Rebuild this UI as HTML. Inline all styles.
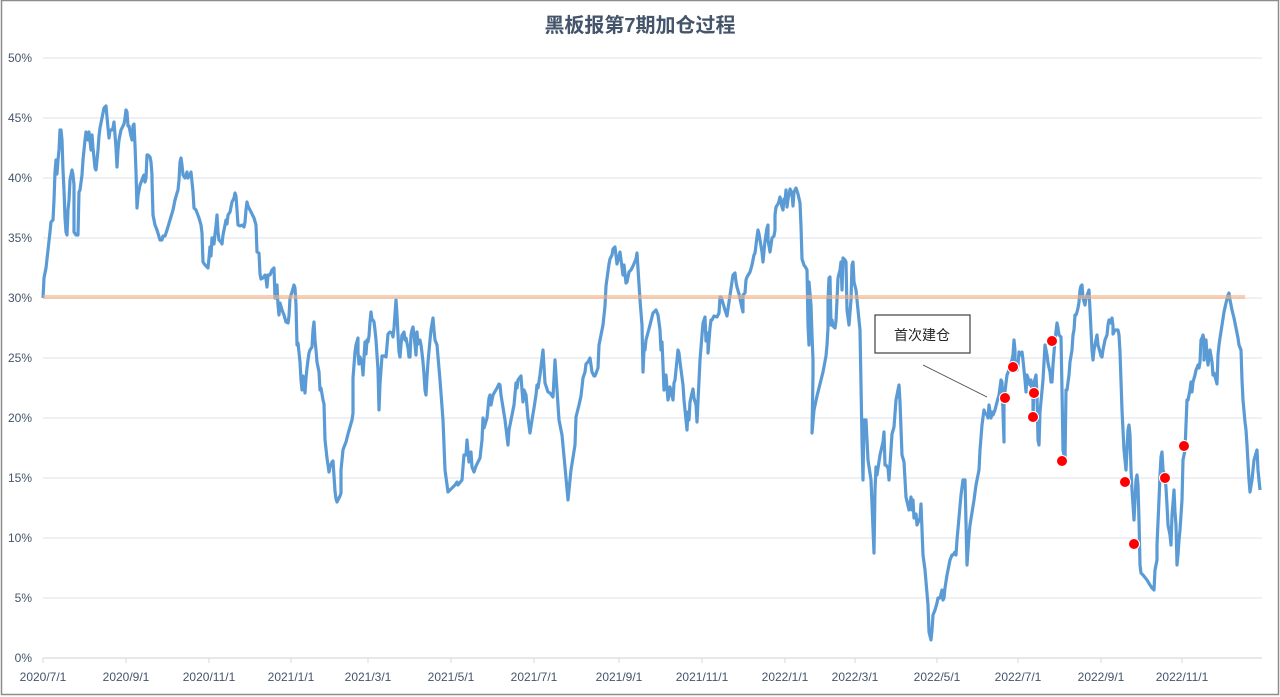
<!DOCTYPE html>
<html><head><meta charset="utf-8"><style>
html,body{margin:0;padding:0;background:#fff;}
svg{display:block;}
text{font-family:"Liberation Sans","Noto Sans CJK SC",sans-serif;}
</style></head><body>
<svg width="1280" height="697" viewBox="0 0 1280 697" xmlns="http://www.w3.org/2000/svg">
<rect x="1.5" y="0.5" width="1277" height="694" fill="#fff" stroke="#8c8c8c" stroke-width="1.5"/>
<text x="640" y="32" text-anchor="middle" font-size="20" font-weight="bold" fill="#44546a">黑板报第7期加仓过程</text>
<g stroke="#e4e7ec" stroke-width="1.2">
<line x1="43" x2="1262" y1="58" y2="58"/><line x1="43" x2="1262" y1="118" y2="118"/>
<line x1="43" x2="1262" y1="178" y2="178"/><line x1="43" x2="1262" y1="238" y2="238"/>
<line x1="43" x2="1262" y1="298" y2="298"/><line x1="43" x2="1262" y1="358" y2="358"/>
<line x1="43" x2="1262" y1="418" y2="418"/><line x1="43" x2="1262" y1="478" y2="478"/>
<line x1="43" x2="1262" y1="538" y2="538"/><line x1="43" x2="1262" y1="598" y2="598"/>
</g>
<line x1="43" x2="1262" y1="658" y2="658" stroke="#d9d9d9" stroke-width="1.2"/>
<g stroke="#d9d9d9" stroke-width="1">
<line x1="43" x2="43" y1="658" y2="663"/><line x1="126" x2="126" y1="658" y2="663"/><line x1="209" x2="209" y1="658" y2="663"/><line x1="291" x2="291" y1="658" y2="663"/><line x1="368" x2="368" y1="658" y2="663"/><line x1="451" x2="451" y1="658" y2="663"/><line x1="534" x2="534" y1="658" y2="663"/><line x1="619" x2="619" y1="658" y2="663"/><line x1="702" x2="702" y1="658" y2="663"/><line x1="785" x2="785" y1="658" y2="663"/><line x1="855" x2="855" y1="658" y2="663"/><line x1="937" x2="937" y1="658" y2="663"/><line x1="1018" x2="1018" y1="658" y2="663"/><line x1="1101" x2="1101" y1="658" y2="663"/><line x1="1182" x2="1182" y1="658" y2="663"/>
</g>
<g font-size="12" fill="#44546a" text-anchor="end">
<text x="32" y="62">50%</text><text x="32" y="122">45%</text><text x="32" y="182">40%</text><text x="32" y="242">35%</text><text x="32" y="302">30%</text><text x="32" y="362">25%</text><text x="32" y="422">20%</text><text x="32" y="482">15%</text><text x="32" y="542">10%</text><text x="32" y="602">5%</text><text x="32" y="662">0%</text>
</g>
<g font-size="12" fill="#44546a" text-anchor="middle">
<text x="43" y="681">2020/7/1</text><text x="126" y="681">2020/9/1</text><text x="209" y="681">2020/11/1</text><text x="291" y="681">2021/1/1</text><text x="368" y="681">2021/3/1</text><text x="451" y="681">2021/5/1</text><text x="534" y="681">2021/7/1</text><text x="619" y="681">2021/9/1</text><text x="702" y="681">2021/11/1</text><text x="785" y="681">2022/1/1</text><text x="855" y="681">2022/3/1</text><text x="937" y="681">2022/5/1</text><text x="1018" y="681">2022/7/1</text><text x="1101" y="681">2022/9/1</text><text x="1182" y="681">2022/11/1</text>
</g>
<polyline fill="none" stroke="#5b9bd5" stroke-width="3.2" stroke-linejoin="round" points="43,298 44,278 46,268 48,250 50,232 51,222 53,220 54,200 55,172 56,160 57,174 58,160 59,150 60,130 61,130 62,140 63,170 64,190 65,218 66,232 67,235 68,210 69,200 70,180 71,175 72,170 73,175 74,185 74,232 76,235 78,235 79,192 80,190 82,175 83,160 85,140 86,132 88,140 89,132 91,150 92,135 93,148 95,168 96,170 98,150 99,136 100,128 102,118 104,108 106,106 108,128 109,138 110,130 112,130 113,128 114,122 115,135 116,148 117,167 118,150 119,140 121,130 122,128 124,124 125,118 126,110 127,112 128,126 129,126 131,136 132,140 133,126 134,124 135,145 136,172 137,208 138,196 140,185 142,180 143,177 144,175 145,182 146,178 147,155 148,155 150,157 151,162 152,175 152,180 153,215 155,225 157,230 160,240 162,240 163,236 165,236 167,230 170,220 173,210 175,200 177,193 178,190 179,180 180,162 181,158 182,165 183,175 185,178 187,172 188,178 189,176 190,176 191,172 192,182 193,192 194,208 196,210 199,218 201,225 202,233 203,262 205,265 208,268 209,258 210,247 211,256 212,238 213,238 214,244 215,234 216,226 217,215 218,232 219,240 221,242 222,244 223,235 225,225 226,220 227,224 228,215 230,212 232,202 234,198 235,193 236,196 237,210 238,225 240,226 242,225 244,227 245,222 246,210 247,202 248,206 250,210 252,214 254,218 256,225 257,252 259,253 260,274 261,279 263,278 265,275 266,279 267,287 268,275 270,275 272,270 274,268 275,298 276,298 277,285 278,305 279,315 280,303 282,310 284,315 286,322 288,323 289,316 290,298 292,292 294,285 295,288 296,305 297,345 298,343 300,362 301,380 302,390 303,376 305,393 306,378 307,368 308,360 309,353 310,350 312,347 313,330 314,322 315,340 316,350 317,362 319,372 320,390 321,388 323,400 324,404 325,440 327,458 329,472 330,467 332,462 333,461 335,491 336,499 337,502 338,500 340,496 341,493 341,470 343,450 344,447 346,442 348,434 350,427 352,420 353,413 353,404 353,378 355,352 356,345 358,338 358,352 359,364 360,357 361,360 362,363 363,375 364,358 365,342 366,354 367,340 368,342 369,336 370,322 371,312 372,320 373,320 374,322 375,330 376,340 377,355 378,370 379,410 380,384 381,370 382,356 384,356 386,357 387,346 388,334 390,332 392,333 393,337 394,328 396,300 397,315 398,335 399,352 400,357 401,345 402,335 403,334 404,332 405,340 406,338 407,343 408,348 409,357 410,357 411,335 412,330 413,327 414,335 416,355 417,332 418,344 420,340 421,345 422,353 423,362 424,374 425,390 426,395 427,377 428,362 430,340 431,330 433,318 434,330 435,340 437,345 440,380 443,420 445,470 448,492 455,485 457,482 458,485 462,480 463,467 464,455 466,455 467,440 469,462 471,452 472,467 474,472 476,466 480,458 482,440 483,418 484,428 487,418 489,398 490,395 491,405 493,395 497,388 499,384 500,385 501,395 505,420 508,445 509,430 512,415 514,405 516,383 517,388 518,380 521,376 522,390 523,402 524,390 526,395 528,418 530,433 532,420 534,408 536,395 537,385 538,388 540,375 543,350 545,383 548,392 550,393 553,397 555,360 559,420 562,435 565,467 568,500 571,470 575,445 576,417 579,405 581,396 583,378 585,372 586,364 588,362 590,358 592,372 594,376 595,376 598,368 599,345 601,335 603,325 605,306 606,286 609,264 610,259 612,255 613,249 615,247 617,264 620,252 623,275 624,265 626,283 627,282 629,272 631,270 633,266 636,259 637,253 640,300 642,325 643,372 644,350 645,350 646,340 650,325 653,313 656,310 658,315 660,330 661,350 662,342 663,365 664,390 666,375 668,400 669,395 670,387 673,400 674,383 675,380 676,370 678,350 679,353 680,362 683,385 684,400 687,430 688,412 689,420 690,402 692,393 693,389 694,398 696,405 697,422 700,360 702,335 703,323 705,317 706,341 707,335 708,333 708,353 710,328 711,320 712,320 714,316 717,317 719,313 720,297 721,297 722,300 725,310 727,316 729,302 733,275 735,273 736,282 737,287 739,294 742,308 743,312 743,295 745,293 746,280 747,277 750,272 752,265 754,255 755,253 757,237 758,230 759,234 760,240 762,252 763,262 765,241 767,228 768,225 768,240 770,252 771,245 772,238 774,236 775,230 775,215 776,207 778,204 779,201 780,197 782,207 783,210 784,199 785,202 786,190 787,207 788,199 789,195 790,189 792,193 793,206 794,192 796,188 798,194 800,203 801,226 802,259 803,262 804,265 806,268 807,270 808,325 809,345 809,282 811,305 812,335 813,360 813,375 812,433 814,410 817,396 821,380 823,372 826,356 827,345 828,328 828,300 829,278 830,277 831,325 832,320 833,326 835,328 836,321 837,300 838,278 840,270 841,262 842,290 843,258 845,260 846,262 847,310 849,325 851,300 852,265 853,262 854,282 856,290 858,310 860,330 862,440 863,480 864,420 866,420 868,460 871,480 874,553 875,490 876,467 877,475 880,455 883,442 884,432 885,465 886,465 888,468 889,480 892,434 894,427 896,400 899,385 900,402 902,455 904,462 906,497 909,510 911,497 912,510 913,500 914,518 916,514 917,525 920,518 921,504 923,555 925,570 928,605 929,632 931,640 932,630 933,615 935,610 937,603 938,598 940,598 942,590 943,600 944,598 945,588 947,575 948,570 950,560 952,555 953,555 955,552 956,555 957,540 961,495 963,480 965,480 967,565 969,535 970,525 974,500 976,485 979,470 980,450 982,425 984,410 985,413 987,415 988,418 989,405 991,418 992,412 993,415 995,410 997,402 999,395 1001,380 1002,382 1004,442 1004,400 1006,383 1007,375 1009,370 1010,365 1012,360 1013,355 1014,340 1015,350 1015,360 1017,370 1018,365 1019,352 1020,355 1022,352 1023,360 1025,380 1026,392 1027,375 1028,378 1030,385 1031,380 1033,400 1033,420 1034,383 1036,375 1037,395 1038,440 1039,445 1040,412 1043,380 1045,345 1047,355 1048,363 1050,372 1051,382 1052,382 1053,365 1055,340 1057,323 1058,328 1059,335 1061,337 1062,390 1063,450 1065,460 1066,390 1067,390 1069,375 1070,362 1072,350 1073,335 1074,330 1075,315 1076,315 1077,312 1078,308 1079,302 1080,290 1081,286 1082,285 1083,298 1085,305 1086,298 1088,293 1089,290 1090,310 1092,350 1093,360 1094,350 1096,340 1097,335 1098,345 1100,352 1101,356 1102,357 1103,350 1105,340 1107,335 1108,325 1109,320 1110,320 1111,323 1112,318 1113,326 1113,334 1115,330 1118,330 1119,335 1120,352 1122,410 1124,450 1125,460 1126,470 1127,450 1128,430 1129,425 1130,435 1131,470 1132,490 1133,505 1134,520 1135,500 1136,480 1137,475 1138,485 1139,520 1140,565 1141,573 1143,575 1147,580 1150,585 1152,588 1154,590 1155,570 1157,560 1157,545 1158,522 1159,500 1160,475 1161,457 1162,452 1163,470 1164,473 1165,475 1166,488 1167,505 1168,525 1170,535 1171,545 1172,515 1173,503 1174,490 1175,512 1176,525 1177,565 1178,555 1179,540 1180,530 1182,500 1183,460 1185,450 1187,400 1188,400 1190,390 1191,382 1192,392 1193,382 1195,375 1196,370 1197,368 1198,365 1199,368 1200,362 1201,340 1202,338 1203,335 1204,340 1204,360 1205,340 1206,340 1207,355 1208,365 1210,350 1212,362 1213,375 1214,373 1216,380 1217,384 1218,355 1219,345 1220,338 1222,325 1224,312 1226,303 1228,295 1229,293 1230,300 1232,310 1234,318 1236,328 1238,338 1239,345 1241,350 1242,380 1243,400 1245,422 1246,430 1247,445 1249,480 1250,492 1252,480 1253,470 1254,460 1257,450 1258,470 1260,490"/>
<line x1="43" x2="1245" y1="297" y2="297" stroke="#f4b183" stroke-opacity="0.6" stroke-width="4"/>
<g fill="#ff0000" stroke="#fff" stroke-width="1">
<circle cx="1005" cy="398" r="5.5"/><circle cx="1013" cy="367" r="5.5"/><circle cx="1034" cy="393" r="5.5"/><circle cx="1033" cy="417" r="5.5"/><circle cx="1052" cy="341" r="5.5"/><circle cx="1062" cy="461" r="5.5"/><circle cx="1125" cy="482" r="5.5"/><circle cx="1134" cy="544" r="5.5"/><circle cx="1165" cy="478" r="5.5"/><circle cx="1184" cy="446" r="5.5"/>
</g>
<line x1="923" y1="365" x2="987" y2="397" stroke="#404040" stroke-width="0.8"/>
<rect x="875" y="315" width="95" height="38" fill="#fff" stroke="#404040" stroke-width="1.2"/>
<text x="922" y="340" text-anchor="middle" font-size="14" fill="#262626">首次建仓</text>
</svg>
</body></html>
